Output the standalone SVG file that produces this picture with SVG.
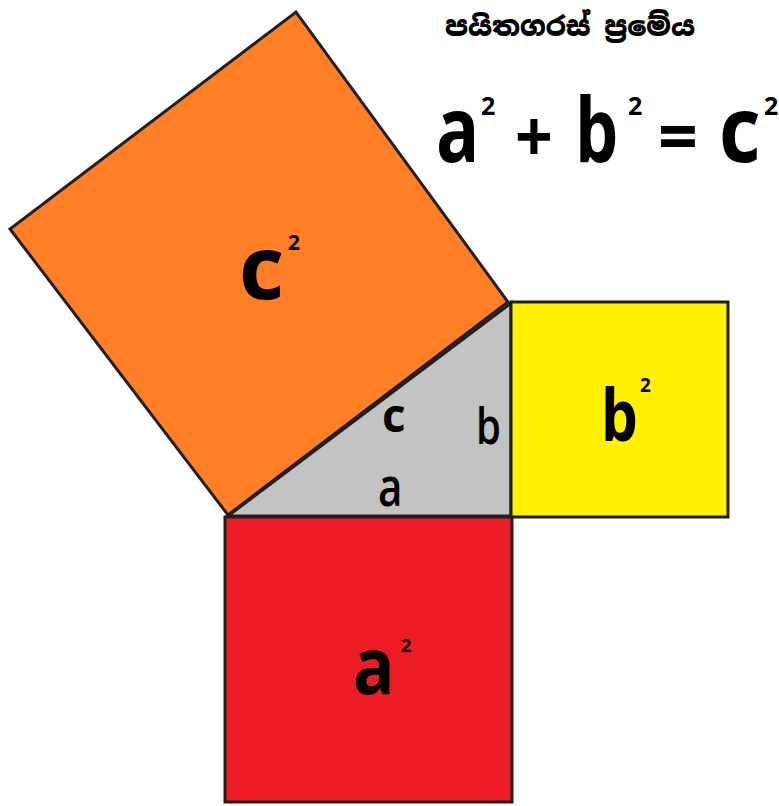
<svg xmlns="http://www.w3.org/2000/svg" width="779" height="806" viewBox="0 0 779 806">
<style>
.edge{stroke:#231f20;stroke-width:3;stroke-linejoin:miter}
.t{font-family:"Open Sans","DejaVu Sans",sans-serif;fill:#000}
.b{font-weight:bold}
.m{font-weight:600}
.si{font-family:"Noto Sans Sinhala","Iskoola Pota","Noto Sans","DejaVu Sans",sans-serif;font-weight:900;font-size:27px;fill:#000}
</style>
<rect width="779" height="806" fill="#ffffff"/>
<g id="triangle">
<polygon class="edge" points="228,516 511,516 511,303" fill="#c3c3c3"/>
<text class="t b" x="382" y="432" font-size="46">c</text>
<text class="t m" transform="translate(476,444) scale(0.8,1)" font-size="50">b</text>
<text class="t m" transform="translate(378,506) scale(0.78,1)" font-size="54">a</text>
</g>
<g id="square-a">
<rect class="edge" x="225" y="517" width="287" height="285" fill="#ed1c24"/>
<text class="t b" transform="translate(353,694) scale(0.87,1)" font-size="79">a</text>
<text class="t b" x="401" y="652" font-size="18">2</text>
</g>
<g id="square-b">
<rect class="edge" x="511" y="302" width="217" height="215" fill="#fff200"/>
<text class="t b" transform="translate(601,441) scale(0.82,1)" font-size="71">b</text>
<text class="t b" x="640" y="392" font-size="19">2</text>
</g>
<g id="square-c">
<polygon class="edge" points="228,515 508,302 296,12 10,229" fill="#ff7f27"/>
<text class="t b" x="239" y="299" font-size="88">c</text>
<text class="t b" x="288" y="250" font-size="21">2</text>
</g>
<g id="title">
<text class="si" x="570" y="36" text-anchor="middle" textLength="250" lengthAdjust="spacingAndGlyphs">පයිතගරස් ප්&#x200D;රමේය</text>
</g>
<g id="equation">
<text class="t b" transform="translate(436,162) scale(0.78,1)" font-size="92">a</text>
<text class="t b" x="481" y="115" font-size="25">2</text>
<text class="t b" transform="translate(515,162) scale(0.92,1)" font-size="72">+</text>
<text class="t b" transform="translate(575,162) scale(0.76,1)" font-size="90">b</text>
<text class="t b" x="628" y="115" font-size="25">2</text>
<text class="t b" transform="translate(658,162) scale(0.97,1)" font-size="72">=</text>
<text class="t b" transform="translate(719,162) scale(0.88,1)" font-size="92">c</text>
<text class="t b" x="764" y="115" font-size="25">2</text>
</g>
</svg>
